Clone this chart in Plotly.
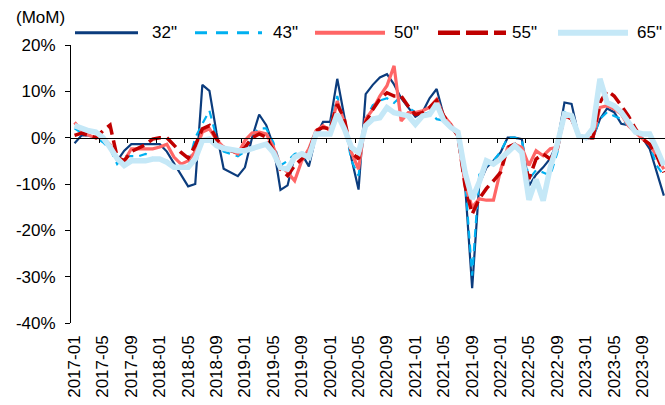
import plotly.graph_objects as go

months = [f"{y}-{m:02d}" for y in range(2017, 2024) for m in range(1, 13)]
tick_labels = ["2017-01", "2017-05", "2017-09", "2018-01", "2018-05", "2018-09",
               "2019-01", "2019-05", "2019-09", "2020-01", "2020-05", "2020-09",
               "2021-01", "2021-05", "2021-09", "2022-01", "2022-05", "2022-09",
               "2023-01", "2023-05", "2023-09"]
y_ticks = [20, 10, 0, -10, -20, -30, -40]

s32 = [-1.2, 0.5, 0.5, 0, 0, -1.5, -5, -2.8, -1.4, -1.4, -1.4, -1.4,
       -1.4, -3, -5.5, -8, -10.5, -10, 11.4, 10.1, 1, -6.7, -7.5, -8.3,
       -6.4, 0, 5, 2.7, -1.7, -11.3, -10.3, -4, -3.5, -6.2, 0.4, 3.4,
       3.4, 12.7, 4.5, -4.5, -11.2, 9.4, 11.4, 13, 13.7, 11.5, 8.5, 6.5,
       4.5, 5.5, 8.5, 10.5, 4.7, 2.6, 0.8, -10, -32.5, -10, -6.5, -5, -3.2, 0,
       0, -0.3, -10.4, -8, -6.4, -4.5, -1, 7.6, 7.3, 0.4, -0.1, -0.1,
       4, 6.3, 5.5, 3, 2.7, 1.2, -0.1, -2.4, -7.5, -12.5]
s43 = [2, 1, 0.5, 0, -1, -2.4, -5.7, -4, -4, -4, -3.5, -4.4,
       -4.5, -5, -6, -6.5, -6, 0, 3, 5.8, 0, -3, -3.5, -4,
       -3, 0.5, 2, 2, -1, -6, -5, -3.5, -3, -5, 0.5, 2.5,
       2.5, 9, 3, -5, -8.2, 4, 7, 8, 8.5, 7.5, 9, 6.5,
       5.5, 5, 5.5, 4, 3.7, 2.5, 0.8, -9, -29.8, -8, -6, -5, -3, 0,
       0, -0.5, -9, -7, -7.5, -8.2, -3.2, 5.5, 4.7, 0.4, 0, 0,
       4, 5.5, 4.7, 4, 2.6, 1.2, 0, -1.7, -6, -8.2]
s50 = [3.3, 1.5, 0.5, 0, 0, -1.5, -4.5, -5, -2.4, -2.4, -2.4, -2.4,
       -2, -1.4, -4.2, -5.7, -5, -3, 1.2, 1.9, -0.5, -2.1, -2.8, -3.5,
       -0.6, 1, 1.2, 0.8, -2, -6, -7.5, -9.3, -5, -2.4, 1.5, 2.6,
       1.5, 7.9, 3.3, -3.2, -6.8, 4, 6.1, 9, 11.2, 15.5, 3.6, 5.4,
       5.4, 5.8, 6.5, 8.3, 4.7, 2.9, 0.4, -10, -15, -13.2, -13.5, -13.5, -7, -2.1,
       -1.4, -2.1, -6, -2.8, -3.9, -2.4, -2.1, 4.7, 4, 0.4, 0, 0,
       6.5, 6.9, 6.2, 5.1, 2.6, 1.2, -0.3, -1.4, -3.9, -6.8]
s55 = [0.5, 1, 0.5, 0, 1.5, 2.7, -4.2, -5, -3, -2.2, -1.5, -0.3,
       0, 0, -1.5, -3.2, -4.4, -1.7, 1.9, 2.6, -0.3, -2.1, -2.8, -3.2,
       -2.1, 0, 0.8, 0.1, -2.8, -6.8, -8.2, -6, -4.6, -3.2, 1.5, 2.2,
       1.9, 7.2, 4, -3.2, -4.6, 3.3, 6.1, 8.3, 9.7, 9, 9, 6.8,
       5, 5.4, 6.5, 8, 4.7, 2.6, 0.4, -10.4, -16.5, -13.2, -11, -9.3, -7.5, -2.1,
       -1.4, -3.5, -8.9, -4.6, -3.5, -4.6, -2.4, 5.1, 4, 0.4, 0, 0,
       7.6, 10.1, 9, 6.9, 4.7, 1.9, -0.3, -1.4, -3.9, -7.5]
s65 = [2.6, 1.9, 1.5, 1.2, 0, -2.1, -4.5, -6, -5, -5, -5, -4.6,
       -4.6, -5.3, -6.4, -6.4, -6.4, -4.6, -0.6, -0.3, -1.7, -2.3, -2.6, -2.8,
       -2.8, -2.4, -2.1, -1.4, -3.2, -6.4, -6.8, -4.2, -3.5, -4.2, 0.8, 0.8,
       0.8, 5.1, 1.9, -2.1, -3.2, 2.6, 4, 4.3, 6.5, 5.4, 5.1, 4.7,
       2.9, 4.7, 5, 7.3, 3.7, 2.2, 1.2, -7.5, -13.2, -9.6, -5, -5.7, -4.6, -3.2,
       -1.7, -3.2, -13.4, -9, -13.6, -6.4, -1.4, 5.1, 4.7, 0.4, 0, 2,
       12.7, 7.6, 6.9, 5.5, 3.3, 1.2, 0.8, 0.8, -2.4, -6]

series = [
    ('32"', s32, "#0B3C7D", 2.2, "solid", 3, "solid"),
    ('43"', s43, "#00B0F0", 2.2, "8px,6px", 3, "12px,9px"),
    ('50"', s50, "#FF6666", 3.2, "solid", 4, "solid"),
    ('55"', s55, "#C00000", 3.5, "13px,6px", 4.5, "22px,6px"),
    ('65"', s65, "#C5E8F7", 5.5, "solid", 6, "solid"),
]

FONT = "Arial, Liberation Sans, sans-serif"
W, H = 665, 405
L, T, B = 71, 45.3, 81.7
PW = W - L
PH = H - T - B

def px(x):
    return (x - L) / PW

def py(y):
    return (H - B - y) / PH

fig = go.Figure()
for name, vals, color, lw, dash, _, _ in series:
    fig.add_trace(go.Scatter(x=months, y=vals, name=name, mode="lines",
                             line=dict(color=color, width=lw, dash=dash),
                             showlegend=False))

# helper trace for zero-line axis
fig.add_trace(go.Scatter(x=[-0.5], y=[0], xaxis="x2", mode="lines",
                         line=dict(width=0), showlegend=False, hoverinfo="skip"))

xr = [-0.5, 83.16]
shapes = []
annotations = []
leg_x = [(75, 138, 150), (195, 262, 271), (315, 385, 392), (438, 506, 510), (558, 628, 635)]
for (name, _, color, _, _, llw, ldash), (x0, x1, tx) in zip(series, leg_x):
    shapes.append(dict(type="line", xref="paper", yref="paper",
                       x0=px(x0), x1=px(x1), y0=py(33), y1=py(33),
                       line=dict(color=color, width=llw, dash=ldash)))
    annotations.append(dict(text=name, xref="paper", yref="paper", x=px(tx), y=py(33),
                            xanchor="left", yanchor="middle", showarrow=False,
                            font=dict(family=FONT, size=17, color="#000")))
annotations.append(dict(text="(MoM)", xref="paper", yref="paper", x=px(14), y=py(18),
                        xanchor="left", yanchor="middle", showarrow=False,
                        font=dict(family=FONT, size=17, color="#000")))

fig.update_layout(
    width=W, height=H,
    margin=dict(l=L, r=0, t=T, b=B, autoexpand=False),
    paper_bgcolor="white", plot_bgcolor="white",
    font=dict(family=FONT, size=17, color="#000"),
    shapes=shapes, annotations=annotations,
    xaxis=dict(type="category", range=xr, tickmode="array", tickvals=tick_labels,
               ticktext=tick_labels, tickangle=-90, showgrid=False, zeroline=False,
               showline=False, ticks="", ticklabelstandoff=8, automargin=False,
               tickfont=dict(family=FONT, size=17, color="#000")),
    xaxis2=dict(type="linear", overlaying="x", anchor="free", position=40 / 60,
                range=xr, tickmode="array", tickvals=[3.5 + 4 * k for k in range(20)],
                showticklabels=False, ticks="outside", ticklen=4, tickcolor="#000",
                showline=True, linecolor="#000", linewidth=1, showgrid=False, zeroline=False),
    yaxis=dict(range=[-40, 20], tickmode="array", tickvals=y_ticks,
               ticktext=[f"{v}%" for v in y_ticks], showgrid=False, zeroline=False,
               showline=True, linecolor="#000", linewidth=1, ticks="outside", ticklen=5,
               tickcolor="#000", automargin=False, ticklabelstandoff=6,
               tickfont=dict(family=FONT, size=17, color="#000")),
)

fig.write_html("out.html", config={"displayModeBar": False},
               post_script="document.body.style.margin='0';document.body.style.overflow='hidden';")
